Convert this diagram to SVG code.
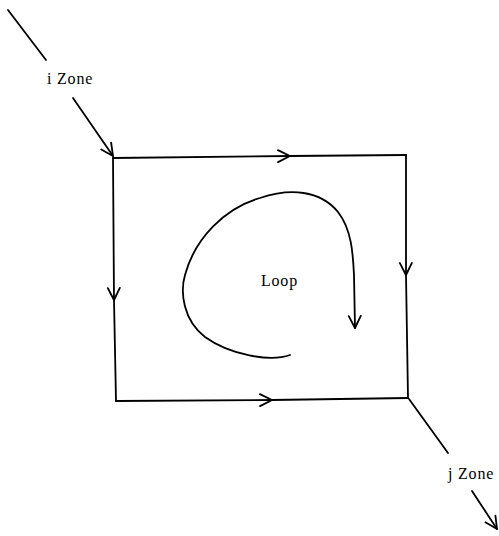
<svg xmlns="http://www.w3.org/2000/svg" width="499" height="536" viewBox="0 0 499 536">
<style>
.ln{fill:none;stroke:#000;stroke-width:1.8;stroke-linecap:round;stroke-linejoin:round}
.tx{font-family:"Liberation Serif","DejaVu Serif",serif;font-size:16px;letter-spacing:0.8px;fill:#000}
</style>
<defs>
<marker id="ah" markerUnits="userSpaceOnUse" markerWidth="16" markerHeight="16" refX="13" refY="7" orient="auto" viewBox="0 0 16 14">
<path d="M1,1 L13,7 L1,13" fill="none" stroke="#000" stroke-width="1.8" stroke-linecap="round" stroke-linejoin="round"/>
</marker>
</defs>
<rect width="499" height="536" fill="#fff"/>
<g id="connectors">
<path class="ln" d="M8,10 L46,60"/>
<path class="ln" d="M73,98 L113,156" marker-end="url(#ah)"/>
<path class="ln" d="M113,158 L290,156 L406,155" marker-mid="url(#ah)"/>
<path class="ln" d="M406,155 L406,275 L408,398" marker-mid="url(#ah)"/>
<path class="ln" d="M113,158 L114,300 L116,401" marker-mid="url(#ah)"/>
<path class="ln" d="M116,401 L272,400 L408,398" marker-mid="url(#ah)"/>
<path class="ln" d="M409,399 L448,453"/>
<path class="ln" d="M472,491 L497,529" marker-end="url(#ah)"/>
<path class="ln" d="M290,355 C270,362 230,355 205,337 C183,320 180,292 185,275 C195,238 225,208 260,198 C290,188 320,190 338,212 C352,230 353,255 354,275 L355,328" marker-end="url(#ah)"/>
</g>
<g id="i-zone"><text class="tx" x="47" y="84">i  Zone</text></g>
<g id="j-zone"><text class="tx" x="448" y="479">j  Zone</text></g>
<g id="loop"><text class="tx" x="261" y="286">Loop</text></g>
</svg>
